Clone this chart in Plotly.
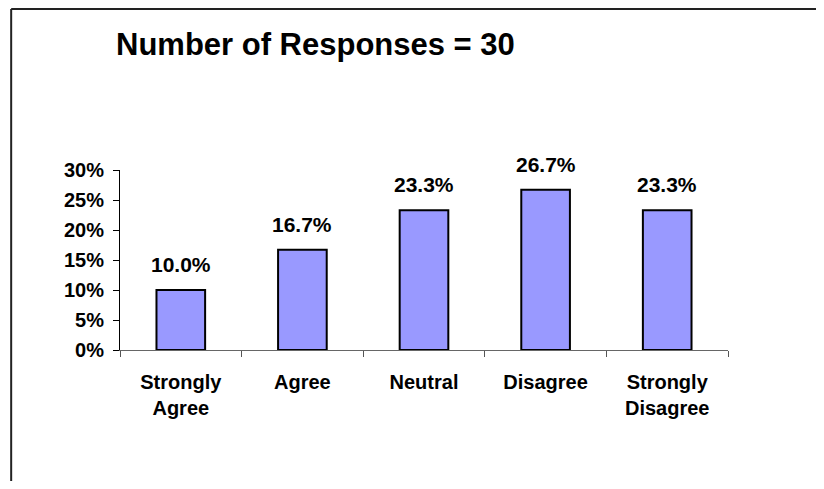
import plotly.graph_objects as go

categories = ["Strongly<br>Agree", "Agree", "Neutral", "Disagree", "Strongly<br>Disagree"]
values = [0.100, 0.167, 0.233, 0.267, 0.233]
value_labels = ["10.0%", "16.7%", "23.3%", "26.7%", "23.3%"]
y_tick_vals = [0, 0.05, 0.10, 0.15, 0.20, 0.25, 0.30]
y_tick_text = ["0%", "5%", "10%", "15%", "20%", "25%", "30%"]
title_text = "Number of Responses = 30"

FONT = "Liberation Sans, Arial, sans-serif"

fig = go.Figure()
fig.add_trace(go.Bar(
    x=categories, y=values,
    marker=dict(color="#9999FF", line=dict(color="#000000", width=2)),
    width=0.4, hoverinfo="skip",
))

for c, v, t in zip(categories, values, value_labels):
    fig.add_annotation(x=c, y=v, text=f"<b>{t}</b>", showarrow=False,
                       yanchor="bottom", yshift=12,
                       font=dict(family=FONT, size=21, color="#000"))

fig.add_annotation(xref="paper", yref="paper", x=-0.01, y=1.70,
                   xanchor="left", yanchor="middle", showarrow=False,
                   text=f"<b>{title_text}</b>",
                   font=dict(family=FONT, size=31, color="#000"))

# outer frame: only left and top edges are visible in the reference
fig.add_shape(type="line", xref="paper", yref="paper",
              x0=-0.179, x1=1.3, y0=1.894, y1=1.894,
              line=dict(color="#222", width=2))
fig.add_shape(type="line", xref="paper", yref="paper",
              x0=-0.179, x1=-0.179, y0=-0.95, y1=1.894,
              line=dict(color="#222", width=2))

fig.update_layout(
    width=808, height=473,
    margin=dict(l=112, r=88, t=162, b=131),
    paper_bgcolor="white", plot_bgcolor="white",
    showlegend=False,
    font=dict(family=FONT, color="#000"),
    xaxis=dict(
        type="category", tickson="boundaries", ticks="outside", ticklen=6,
        tickcolor="#555", showline=True, linecolor="#666", linewidth=1,
        showgrid=False, tickfont=dict(family=FONT, size=20, color="#000"),
        ticklabelstandoff=14,
    ),
    yaxis=dict(
        range=[0, 0.3], tickvals=y_tick_vals, ticktext=[f"<b>{t}</b>" for t in y_tick_text],
        ticks="outside", ticklen=6, tickcolor="#000", showline=True,
        linecolor="#000", linewidth=1, showgrid=False, zeroline=False,
        tickfont=dict(family=FONT, size=20, color="#000"),
        ticklabelstandoff=5,
    ),
)
fig.update_xaxes(ticktext=[f"<b>{c}</b>" for c in categories], tickvals=categories)

fig.write_html("out.html", config={"displayModeBar": False})
